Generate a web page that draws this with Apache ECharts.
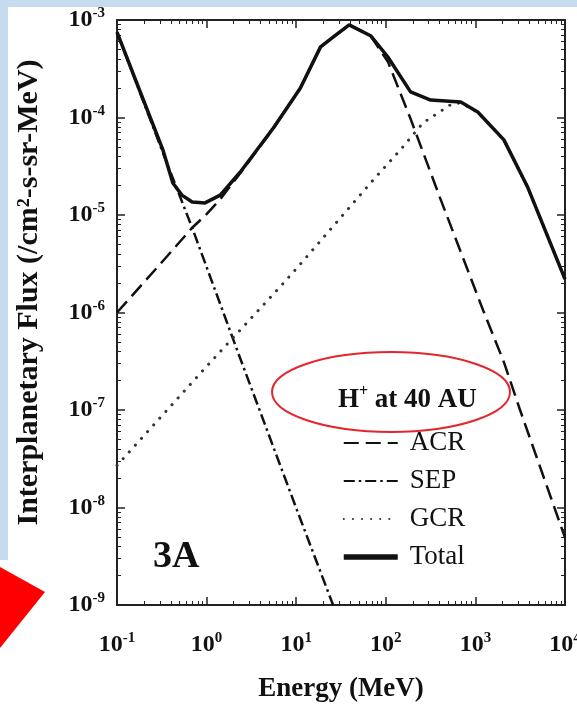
<!DOCTYPE html>
<html><head><meta charset="utf-8">
<script src="https://cdn.jsdelivr.net/npm/echarts@6/dist/echarts.min.js"></script>
<style>html,body{margin:0;padding:0;background:#fff}#c{width:577px;height:706px}</style>
</head><body><div id="c"></div>
<script>
// Energies (MeV) and fluxes (/cm^2-s-sr-MeV)
const totalEnergy = [0.1, 0.18, 0.327, 0.42, 0.53, 0.69, 0.96, 1.42, 2.38, 5.56, 11.1, 18.7, 26, 39, 67.6, 105, 189, 317, 686, 1063, 2080, 3860, 10000];
const totalFlux   = [7.5e-4, 1.87e-4, 4.6e-5, 2.13e-5, 1.6e-5, 1.36e-5, 1.33e-5, 1.6e-5, 2.76e-5, 7.8e-5, 2.0e-4, 5.3e-4, 6.7e-4, 8.9e-4, 6.9e-4, 4.2e-4, 1.83e-4, 1.51e-4, 1.44e-4, 1.14e-4, 5.9e-5, 1.9e-5, 2.2e-6];

const acrEnergy = [0.1, 0.3, 0.69, 1.0, 1.42, 2.38, 5.56, 11.1, 18.7, 26, 39, 67.6, 106, 189, 403, 1216, 2080, 3150, 10000];
const acrFlux   = [1.0e-6, 3.1e-6, 7.4e-6, 1.02e-5, 1.45e-5, 2.7e-5, 7.7e-5, 2.0e-4, 5.3e-4, 6.7e-4, 8.9e-4, 6.9e-4, 3.7e-4, 9.7e-5, 1.5e-5, 1.06e-6, 3.1e-7, 1.0e-7, 4.9e-9];

const sepEnergy = [0.1, 0.33, 0.69, 2.24, 10.2, 25.8];
const sepFlux   = [7.5e-4, 4.2e-5, 7.4e-6, 3.9e-7, 9.4e-9, 1.0e-9];

const gcrEnergy = [0.1, 1, 6.6, 10, 75.7, 144, 260, 521, 686, 1063, 2080, 3860, 10000];
const gcrFlux   = [2.7e-8, 2.8e-7, 1.83e-6, 2.8e-6, 2.4e-5, 4.6e-5, 8.8e-5, 1.34e-4, 1.42e-4, 1.13e-4, 5.9e-5, 1.9e-5, 2.2e-6];

const seriesNames = ['ACR', 'SEP', 'GCR', 'Total'];
const xRange = [0.1, 10000];
const yRange = [1e-9, 1e-3];

function pairs(xs, ys) { return xs.map((x, i) => [x, ys[i]]); }

const FONT = 'Liberation Serif';
const INK = '#111';

function powLabel(v) {
  const e = Math.round(Math.log10(v));
  return '{b|10}{s|' + e + '}';
}
const labelRich = {
  b: { fontFamily: FONT, fontWeight: 'bold', fontSize: 24, color: INK, lineHeight: 28 },
  s: { fontFamily: FONT, fontWeight: 'bold', fontSize: 15, color: INK, lineHeight: 15, verticalAlign: 'top' }
};

const axisLine = { show: true, lineStyle: { color: '#222', width: 2 } };
const tick = { show: true, inside: true, length: 8, lineStyle: { color: '#222', width: 1.5 } };
const minor = { show: true, splitNumber: 9, length: 4, lineStyle: { color: '#222', width: 1 } };

const chart = echarts.init(document.getElementById('c'), null, { renderer: 'canvas' });
chart.setOption({
  backgroundColor: '#fff',
  animation: false,
  grid: { left: 117, top: 20, right: 12, bottom: 101, containLabel: false, outerBoundsMode: 'none' },
  title: [
    {
      text: '{a|H}{s|+}{a| at 40 AU}',
      left: 333, top: 379,
      textStyle: { rich: {
        a: { fontFamily: FONT, fontSize: 27, color: INK, lineHeight: 32 },
        s: { fontFamily: FONT, fontSize: 16, color: INK, lineHeight: 16, verticalAlign: 'top' }
      } }
    },
    {
      text: '3A', left: 148, top: 533,
      textStyle: { fontFamily: FONT, fontWeight: 'bold', fontSize: 38, color: INK }
    }
  ],
  legend: {
    data: [
      { name: seriesNames[0] },
      { name: seriesNames[1] },
      { name: seriesNames[2] },
      { name: seriesNames[3], lineStyle: { width: 5.5 } }
    ],
    orient: 'vertical',
    left: 336, top: 424,
    itemWidth: 54, itemHeight: 14, itemGap: 10,
    itemStyle: { opacity: 0, borderWidth: 0 },
    textStyle: { fontFamily: FONT, fontSize: 27, color: INK, lineHeight: 28, padding: [0, 0, 0, 7] }
  },
  xAxis: [
    {
      type: 'log', logBase: 10, min: xRange[0], max: xRange[1], position: 'bottom',
      axisLine: axisLine, axisTick: tick, minorTick: minor, splitLine: { show: false },
      axisLabel: { formatter: powLabel, rich: labelRich, margin: 26 },
      name: 'Energy (MeV)', nameLocation: 'middle', nameGap: 71,
      nameTextStyle: { fontFamily: FONT, fontWeight: 'bold', fontSize: 27, color: INK }
    },
    {
      type: 'log', logBase: 10, min: xRange[0], max: xRange[1], position: 'top',
      axisLine: axisLine, axisTick: tick, minorTick: minor, splitLine: { show: false },
      axisLabel: { show: false }
    }
  ],
  yAxis: [
    {
      type: 'log', logBase: 10, min: yRange[0], max: yRange[1], position: 'left',
      axisLine: axisLine, axisTick: tick, minorTick: minor, splitLine: { show: false },
      axisLabel: { formatter: powLabel, rich: labelRich, margin: 12 },
      name: 'Interplanetary Flux (/cm²-s-sr-MeV)', nameLocation: 'middle', nameGap: 73, nameRotate: 90,
      nameTextStyle: { fontFamily: FONT, fontWeight: 'bold', fontSize: 30, color: INK, padding: [0, 0, 0, 40] }
    },
    {
      type: 'log', logBase: 10, min: yRange[0], max: yRange[1], position: 'right',
      axisLine: axisLine, axisTick: tick, minorTick: minor, splitLine: { show: false },
      axisLabel: { show: false }
    }
  ],
  graphic: [
    { type: 'rect', shape: { x: 0, y: 0, width: 577, height: 7 }, style: { fill: '#c6daf0' }, z: -10 },
    { type: 'rect', shape: { x: 0, y: 0, width: 8, height: 560 }, style: { fill: '#c6daf0' }, z: -10 },
    { type: 'polygon', shape: { points: [[0, 567], [45, 592], [0, 648]] }, style: { fill: '#ff0000' }, z: 10 },
    { type: 'ellipse', shape: { cx: 391, cy: 392, rx: 119, ry: 40 }, style: { fill: 'none', stroke: '#e3262b', lineWidth: 2 }, z: 10 }
  ],
  series: [
    {
      name: seriesNames[0], type: 'line', data: pairs(acrEnergy, acrFlux), symbol: 'none', z: 2,
      itemStyle: { color: INK },
      lineStyle: { color: INK, width: 2.5, type: [15, 7] }
    },
    {
      name: seriesNames[1], type: 'line', data: pairs(sepEnergy, sepFlux), symbol: 'none', z: 2,
      itemStyle: { color: INK },
      lineStyle: { color: INK, width: 2.5, type: [11, 4, 2.5, 4] }
    },
    {
      name: seriesNames[2], type: 'line', data: pairs(gcrEnergy, gcrFlux), symbol: 'none', z: 2,
      itemStyle: { color: INK },
      lineStyle: { color: '#333', width: 3, type: [0.1, 9], cap: 'round' }
    },
    {
      name: seriesNames[3], type: 'line', data: pairs(totalEnergy, totalFlux), symbol: 'none', z: 3,
      itemStyle: { color: INK },
      lineStyle: { color: INK, width: 3.5 }
    }
  ]
});
</script></body></html>
